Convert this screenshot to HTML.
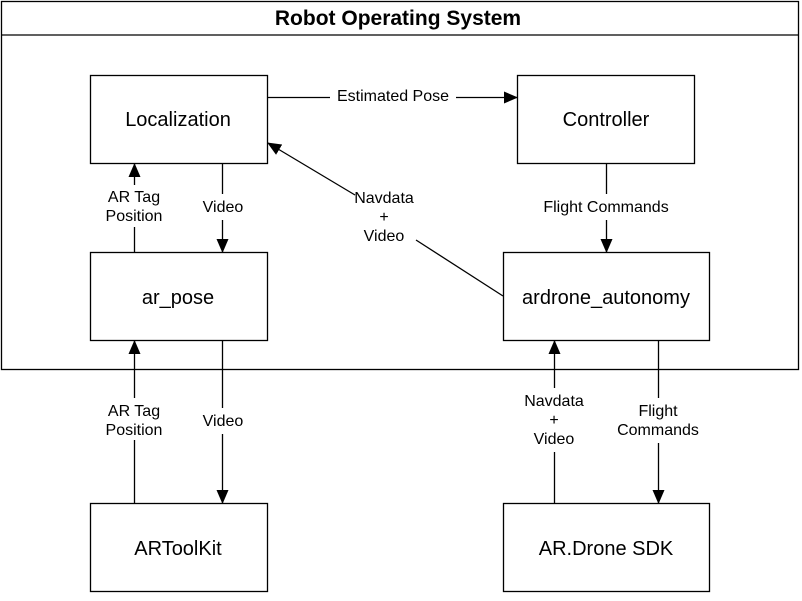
<!DOCTYPE html>
<html><head><style>
body{margin:0;background:#fff}
svg text{font-family:"Liberation Sans",Arial,sans-serif;fill:#000}
</style></head><body>
<svg width="802" height="596" viewBox="0 0 802 596" xmlns="http://www.w3.org/2000/svg">
<defs>
<marker id="b" markerWidth="14" markerHeight="12" refX="13" refY="6" orient="auto" markerUnits="userSpaceOnUse"><path d="M0,0 L14,6 L0,12 z" fill="#000"/></marker></defs>
<g fill="#fff" stroke="#000" stroke-width="1.3">
<rect x="1.5" y="1.5" width="797" height="368"/>
<line x1="1.5" y1="35" x2="798.5" y2="35"/>
<rect x="90.5" y="75.5" width="177" height="88"/>
<rect x="517.5" y="75.5" width="177" height="88"/>
<rect x="90.5" y="252.5" width="177" height="88"/>
<rect x="503.5" y="252.5" width="206" height="88"/>
<rect x="90.5" y="503.5" width="177" height="88"/>
<rect x="503.5" y="503.5" width="206" height="88"/>
</g>
<g stroke="#000" stroke-width="1.3" fill="none">
<line x1="268" y1="97.5" x2="330" y2="97.5"/><line x1="456" y1="97.5" x2="517" y2="97.5" marker-end="url(#b)"/>
<line x1="222.5" y1="164" x2="222.5" y2="194"/><line x1="222.5" y1="220" x2="222.5" y2="252" marker-end="url(#b)"/>
<line x1="134.5" y1="252" x2="134.5" y2="227"/><line x1="134.5" y1="185" x2="134.5" y2="164" marker-end="url(#b)"/>
<line x1="503" y1="296" x2="416" y2="240"/><line x1="355" y1="195" x2="268" y2="143" marker-end="url(#b)"/>
<line x1="606.5" y1="164" x2="606.5" y2="194"/><line x1="606.5" y1="220" x2="606.5" y2="252" marker-end="url(#b)"/>
<line x1="134.5" y1="503" x2="134.5" y2="440"/><line x1="134.5" y1="398" x2="134.5" y2="341" marker-end="url(#b)"/>
<line x1="222.5" y1="341" x2="222.5" y2="408"/><line x1="222.5" y1="434" x2="222.5" y2="503" marker-end="url(#b)"/>
<line x1="554.5" y1="503" x2="554.5" y2="452"/><line x1="554.5" y1="388" x2="554.5" y2="341" marker-end="url(#b)"/>
<line x1="658.5" y1="341" x2="658.5" y2="398"/><line x1="658.5" y1="443" x2="658.5" y2="503" marker-end="url(#b)"/>
</g>
<g text-anchor="middle" font-size="16">
<text x="398" y="25" font-size="21" font-weight="bold">Robot Operating System</text>
<text x="178" y="126" font-size="20">Localization</text>
<text x="606" y="126" font-size="20">Controller</text>
<text x="178" y="304" font-size="20">ar_pose</text>
<text x="606" y="304" font-size="20">ardrone_autonomy</text>
<text x="178" y="555" font-size="20">ARToolKit</text>
<text x="606" y="555" font-size="20">AR.Drone SDK</text>
<text x="393" y="101">Estimated Pose</text>
<text x="223" y="212">Video</text>
<text x="134" y="202">AR Tag</text><text x="134" y="221">Position</text>
<text x="384" y="203">Navdata</text><text x="384" y="222">+</text><text x="384" y="241">Video</text>
<text x="606" y="212">Flight Commands</text>
<text x="134" y="416">AR Tag</text><text x="134" y="435">Position</text>
<text x="223" y="426">Video</text>
<text x="554" y="406">Navdata</text><text x="554" y="425">+</text><text x="554" y="444">Video</text>
<text x="658" y="416">Flight</text><text x="658" y="435">Commands</text>
</g>
</svg>
</body></html>
